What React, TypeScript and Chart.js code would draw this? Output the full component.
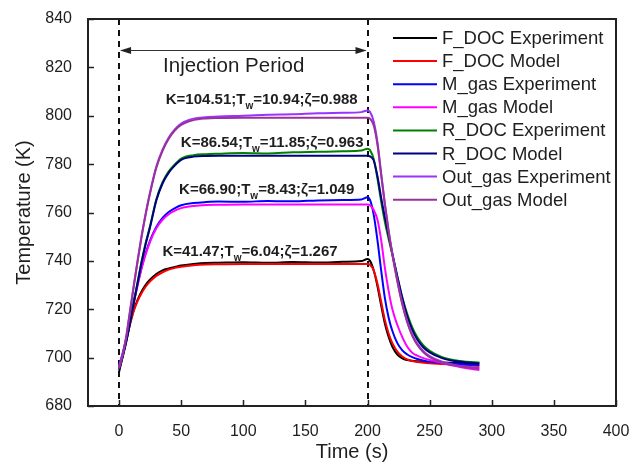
import React, { useEffect, useRef } from "react";
import { Chart, registerables } from "chart.js";

Chart.register(...registerables);

// ---- data ----
const times = [0, 2, 4, 6, 8, 10, 12, 15, 18, 21, 25, 30, 35, 40, 45, 50, 60, 70, 80, 100, 120, 140, 160, 180, 195, 200, 202, 205, 208, 211, 214, 217, 220, 224, 228, 232, 236, 240, 245, 250, 260, 270, 280, 290];

const fDocExperiment = [694, 698.5, 703, 707.5, 712.3, 716.5, 720, 724, 727.2, 729.8, 732.3, 734.6, 736.1, 736.9, 737.5, 738.1, 738.7, 739.1, 739.2, 739.4, 739.2, 739.5, 739.3, 739.6, 739.9, 740.8, 740, 736, 729.5, 721.5, 714, 708.5, 704.5, 701.3, 699.7, 699, 698.7, 698.5, 698.3, 698.2, 698, 697.9, 697.8, 697.7];
const fDocModel = [695.5, 699, 703, 707.5, 712, 716, 719.5, 723.5, 726.5, 729, 731.5, 733.8, 735.3, 736.4, 737.1, 737.6, 738.2, 738.5, 738.6, 738.7, 738.7, 738.7, 738.7, 738.7, 738.7, 738.7, 738.4, 736, 730.5, 723, 715.5, 710, 706, 702.5, 700.5, 699.3, 698.6, 698.2, 697.9, 697.7, 697.4, 697.1, 696.8, 696.5];
const mGasExperiment = [696.5, 700, 704, 708.5, 713.5, 718.5, 723.5, 730.5, 737, 742.5, 748.5, 754, 757.8, 760.2, 761.8, 763, 763.9, 764.3, 764.5, 764.4, 764.8, 764.6, 765, 765.2, 765.4, 766.3, 765.2, 759, 748.5, 736, 724.5, 716.5, 711, 706, 703, 701.3, 700.2, 699.4, 698.8, 698.3, 697.8, 697.5, 697.2, 697];
const mGasModel = [696, 699.5, 703.5, 708, 713, 718, 723, 730, 736.5, 742, 748, 753.5, 757, 759.3, 760.8, 761.8, 762.7, 763.1, 763.2, 763.3, 763.3, 763.3, 763.3, 763.3, 763.3, 763.3, 763, 761, 757, 748.5, 737, 727.5, 720, 713.5, 708.5, 704.5, 702, 700.8, 699.8, 699, 697.8, 696.6, 695.6, 694.9];
const rDocExperiment = [696, 699, 703, 707.5, 712.5, 718, 723.5, 731.5, 739.5, 746.5, 754.5, 765.5, 772.5, 777, 780, 782.3, 783.7, 784.1, 784.3, 784.6, 784.4, 784.9, 785.1, 785.3, 785.6, 786.4, 785.8, 782, 774, 764.5, 756, 749, 742.5, 733.5, 725, 718, 712.5, 708.5, 705, 702.8, 700.2, 698.9, 698.3, 698];
const rDocModel = [695, 698.5, 702.5, 707, 712, 717.5, 723, 731, 739, 746, 754, 765, 772, 776.5, 779.5, 781.8, 783.1, 783.4, 783.5, 783.5, 783.5, 783.5, 783.5, 783.5, 783.5, 783.5, 783.2, 781.5, 775, 766, 758, 750.5, 743, 733.5, 724.5, 717, 711.5, 707.5, 704.2, 702.2, 699.8, 698.6, 698, 697.6];
const outGasExperiment = [696.5, 700, 704, 709.5, 716.5, 723.5, 730.5, 740.5, 750, 758.5, 768.5, 779, 786, 791, 794.5, 796.8, 798.8, 799.4, 799.7, 800, 800.4, 800.6, 801, 801.2, 801.5, 802.2, 801.6, 797.5, 789, 776, 763.5, 752.5, 743, 732, 722.5, 715, 709.5, 705.8, 702.7, 700.6, 698.3, 697, 696.2, 695.8];
const outGasModel = [695.5, 699, 703.5, 709, 716, 723, 730, 740, 749.5, 758, 768, 778.5, 785.5, 790.5, 794, 796.2, 798.2, 798.9, 799.1, 799.2, 799.2, 799.2, 799.2, 799.2, 799.2, 799.2, 798.8, 796, 788, 775.5, 763, 752, 742.5, 731.5, 722, 714.5, 709, 705.3, 702.2, 700.2, 698, 696.8, 696, 695.5];

const seriesLabels = ["F_DOC Experiment", "F_DOC Model", "M_gas Experiment", "M_gas Model", "R_DOC Experiment", "R_DOC Model", "Out_gas Experiment", "Out_gas Model"];
const seriesValues = [fDocExperiment, fDocModel, mGasExperiment, mGasModel, rDocExperiment, rDocModel, outGasExperiment, outGasModel];

const xTicks = [0, 50, 100, 150, 200, 250, 300, 350, 400];
const yTicks = [680, 700, 720, 740, 760, 780, 800, 820, 840];

const kValues = [104.51, 86.54, 66.90, 41.47];
const twValues = [10.94, 11.85, 8.43, 6.04];
const zetaValues = [0.988, 0.963, 1.049, 1.267];

const injectionStart = 0;
const injectionEnd = 200;

// ---- styles ----
const seriesColors = ["#000000", "#ff0000", "#0000ff", "#ff00ff", "#008000", "#000080", "#9933ff", "#993399"];
const FONT = "'Liberation Sans', Arial, sans-serif";
const INK = "#1e1e1e";
// annotation anchors in data units (left edge, vertical centre)
const annotationAnchors = [
  [37.6, 806.5],
  [49.7, 788.7],
  [48.3, 769.3],
  [34.9, 743.7],
];
const arrowY = 827.2;
const injectionLabelPos = [35.4, 820.3];

const overlayPlugin = {
  id: "overlay",
  beforeDatasetsDraw(chart: any) {
    const { ctx, chartArea, scales } = chart;
    const xs = scales.x;
    ctx.save();
    ctx.strokeStyle = "#111";
    ctx.lineWidth = 2;
    ctx.setLineDash([6, 5]);
    [injectionStart, injectionEnd].forEach((t) => {
      const px = Math.round(xs.getPixelForValue(t));
      ctx.beginPath();
      ctx.moveTo(px, chartArea.top);
      ctx.lineTo(px, chartArea.bottom);
      ctx.stroke();
    });
    ctx.restore();
  },
  afterDraw(chart: any) {
    const { ctx, chartArea, scales } = chart;
    const xs = scales.x;
    const ys = scales.y;
    ctx.save();
    // frame
    ctx.strokeStyle = "#222";
    ctx.lineWidth = 2;
    ctx.setLineDash([]);
    ctx.strokeRect(chartArea.left, chartArea.top, chartArea.right - chartArea.left, chartArea.bottom - chartArea.top);
    // inward ticks
    ctx.lineWidth = 1.5;
    xTicks.forEach((t) => {
      const px = Math.round(xs.getPixelForValue(t)) + 0.5;
      ctx.beginPath();
      ctx.moveTo(px, chartArea.bottom);
      ctx.lineTo(px, chartArea.bottom - 6);
      ctx.stroke();
    });
    yTicks.forEach((v) => {
      const py = Math.round(ys.getPixelForValue(v)) + 0.5;
      ctx.beginPath();
      ctx.moveTo(chartArea.left, py);
      ctx.lineTo(chartArea.left + 6, py);
      ctx.stroke();
    });

    // arrow for injection period
    const ax0 = xs.getPixelForValue(injectionStart);
    const ax1 = xs.getPixelForValue(injectionEnd);
    const ay = Math.round(ys.getPixelForValue(arrowY)) + 0.5;
    ctx.strokeStyle = "#333";
    ctx.fillStyle = "#222";
    ctx.lineWidth = 1;
    ctx.beginPath();
    ctx.moveTo(ax0 + 2, ay);
    ctx.lineTo(ax1 - 2, ay);
    ctx.stroke();
    const head = (x: number, dir: number) => {
      ctx.beginPath();
      ctx.moveTo(x, ay);
      ctx.lineTo(x - dir * 11, ay - 3.5);
      ctx.lineTo(x - dir * 11, ay + 3.5);
      ctx.closePath();
      ctx.fill();
    };
    head(ax0 + 1, -1);
    head(ax1 - 1, 1);

    ctx.fillStyle = INK;
    ctx.font = `20.5px ${FONT}`;
    ctx.textBaseline = "middle";
    ctx.textAlign = "left";
    ctx.fillText("Injection Period", xs.getPixelForValue(injectionLabelPos[0]), ys.getPixelForValue(injectionLabelPos[1]));

    // parameter annotations
    annotationAnchors.forEach((a, i) => {
      let x = xs.getPixelForValue(a[0]);
      const y = ys.getPixelForValue(a[1]);
      const part1 = `K=${kValues[i].toFixed(2)};T`;
      const part2 = `=${twValues[i].toFixed(2)};\u03b6=${zetaValues[i].toFixed(3)}`;
      ctx.font = `bold 15px ${FONT}`;
      ctx.fillText(part1, x, y);
      x += ctx.measureText(part1).width;
      ctx.font = `bold 10px ${FONT}`;
      ctx.fillText("w", x, y + 6);
      x += ctx.measureText("w").width;
      ctx.font = `bold 15px ${FONT}`;
      ctx.fillText(part2, x, y);
    });

    // legend
    const lx0 = 393, lx1 = 437, tx = 442, ly0 = 38, step = 23.1;
    ctx.font = `18.5px ${FONT}`;
    seriesLabels.forEach((lab, i) => {
      const y = ly0 + i * step;
      ctx.strokeStyle = seriesColors[i];
      ctx.lineWidth = 2;
      ctx.beginPath();
      ctx.moveTo(lx0, y);
      ctx.lineTo(lx1, y);
      ctx.stroke();
      ctx.fillStyle = INK;
      ctx.fillText(lab, tx, y + 1);
    });
    ctx.restore();
  },
};

export default function App() {
  const ref = useRef<HTMLCanvasElement | null>(null);
  useEffect(() => {
    if (!ref.current) return;
    const chart = new Chart(ref.current, {
      type: "line",
      data: {
        datasets: seriesLabels.map((label, i) => ({
          label,
          data: times.map((t, j) => ({ x: t, y: seriesValues[i][j] })),
          borderColor: seriesColors[i],
          backgroundColor: seriesColors[i],
          borderWidth: 2,
          pointRadius: 0,
          fill: false,
          cubicInterpolationMode: "monotone" as const,
          order: seriesLabels.length - 1 - i,
        })),
      },
      options: {
        animation: false,
        responsive: false,
        maintainAspectRatio: false,
        layout: { padding: { top: 19, right: 14, left: 0, bottom: 0 } },
        plugins: { legend: { display: false }, tooltip: { enabled: false } },
        scales: {
          x: {
            type: "linear",
            min: -25,
            max: 400,
            grid: { display: false },
            border: { display: false },
            afterBuildTicks: (s: any) => {
              s.ticks = xTicks.map((v) => ({ value: v }));
            },
            afterFit: (s: any) => {
              s.height = 59;
              s.paddingLeft = 0;
              s.paddingRight = 0;
            },
            ticks: {
              autoSkip: false,
              maxRotation: 0,
              padding: 8,
              color: INK,
              font: { family: FONT, size: 16 },
            },
            title: {
              display: true,
              text: "Time (s)",
              color: INK,
              font: { family: FONT, size: 20 },
              padding: { top: 1, bottom: 1 },
            },
          },
          y: {
            type: "linear",
            min: 680,
            max: 840,
            grid: { display: false },
            border: { display: false },
            afterBuildTicks: (s: any) => {
              s.ticks = yTicks.map((v) => ({ value: v }));
            },
            afterFit: (s: any) => {
              s.width = 88;
              s.paddingTop = 0;
              s.paddingBottom = 0;
            },
            ticks: {
              padding: 8,
              color: INK,
              font: { family: FONT, size: 16 },
            },
            title: {
              display: true,
              text: "Temperature (K)",
              color: INK,
              font: { family: FONT, size: 20 },
              padding: { top: 12, bottom: 12 },
            },
          },
        },
      },
      plugins: [overlayPlugin],
    });
    return () => chart.destroy();
  }, []);
  return (
    <div style={{ position: "absolute", left: 0, top: 0, width: 630, height: 465, background: "#fff" }}>
      <canvas ref={ref} width={630} height={465} style={{ width: 630, height: 465 }} />
    </div>
  );
}
